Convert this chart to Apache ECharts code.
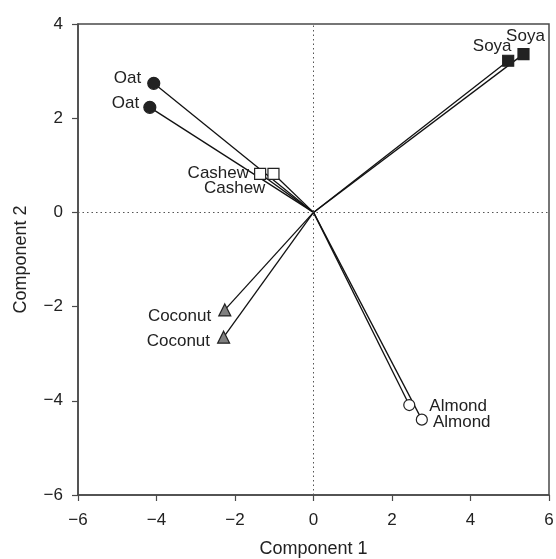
<!DOCTYPE html>
<html><head><meta charset="utf-8">
<script src="https://cdn.jsdelivr.net/npm/echarts@6/dist/echarts.min.js"></script>
<style>html,body{margin:0;padding:0;background:#fff}#c{width:556px;height:559px}</style>
</head><body><div id="c"></div>
<script>
const names = ['Oat','Oat','Cashew','Cashew','Soya','Soya','Coconut','Coconut','Almond','Almond'];
const comp1 = [-4.07,-4.17,-1.36,-1.02,4.96,5.35,-2.26,-2.29,2.44,2.76];
const comp2 = [2.74,2.23,0.82,0.82,3.22,3.36,-2.07,-2.65,-4.09,-4.40];
const xTicks = [-6,-4,-2,0,2,4,6];
const yTicks = [-6,-4,-2,0,2,4];

const FONT = 'Liberation Sans, Arial, sans-serif';
const styles = {
  Oat:    {symbol:'circle', color:'#222', border:'#222', size:12},
  Cashew: {symbol:'rect', color:'#fff', border:'#222', size:11},
  Soya:   {symbol:'rect', color:'#222', border:'#222', size:11},
  Coconut:{symbol:'triangle', color:'#808080', border:'#222', size:12},
  Almond: {symbol:'circle', color:'#fff', border:'#222', size:11}
};
const labelPos = [
  {position:'left', distance:6, offset:[0,-5]},
  {position:'left', distance:4, offset:[0,-4]},
  {position:'left', distance:5, offset:[0,0]},
  {position:'left', distance:2, offset:[0,15]},
  {position:'top', distance:0, offset:[-16,0]},
  {position:'top', distance:3, offset:[2,0]},
  {position:'left', distance:7, offset:[0,6]},
  {position:'left', distance:7, offset:[0,4]},
  {position:'right', distance:14, offset:[0,1]},
  {position:'right', distance:5, offset:[0,3]}
];

const series = [];
series.push({
  type:'line', data:[], silent:true,
  markLine:{symbol:'none', silent:true, label:{show:false},
    lineStyle:{type:[1.5,3], color:'#555', width:1},
    data:[{xAxis:0},{yAxis:0}]}
});
for (let i=0;i<names.length;i++){
  series.push({type:'line', data:[[0,0],[comp1[i],comp2[i]]], symbol:'none',
    lineStyle:{color:'#111', width:1.3}, silent:true, z:2});
}
for (let i=0;i<names.length;i++){
  const s = styles[names[i]];
  const lp = labelPos[i];
  series.push({type:'scatter', data:[[comp1[i],comp2[i]]], symbol:s.symbol, symbolSize:s.size,
    itemStyle:{color:s.color, borderColor:s.border, borderWidth:1.2, opacity:1}, z:3,
    label:{show:true, formatter:names[i], position:lp.position, distance:lp.distance, offset:lp.offset,
      color:'#222', fontSize:17, fontFamily:FONT}});
}
const fmt = v => String(v).replace('-', '\u2212');
const axisCommon = {
  axisLine:{show:true, onZero:false, lineStyle:{color:'#4a4a4a', width:1.5}},
  axisTick:{show:true, inside:false, length:6, lineStyle:{color:'#4a4a4a', width:1.2}},
  splitLine:{show:false},
  axisLabel:{color:'#222', fontSize:17, fontFamily:FONT, formatter:fmt},
  nameLocation:'middle',
  nameTextStyle:{color:'#222', fontSize:18, fontFamily:FONT}
};
const chart = echarts.init(document.getElementById('c'));
chart.setOption({
  animation:false,
  grid:{left:78, right:7, top:24, bottom:64, containLabel:false, outerBoundsMode:'none',
    show:true, borderColor:'#4a4a4a', borderWidth:1.5, backgroundColor:'transparent'},
  xAxis:Object.assign({}, axisCommon, {type:'value', min:xTicks[0], max:xTicks[xTicks.length-1], interval:2,
    name:'Component 1', nameGap:45, axisLabel:Object.assign({}, axisCommon.axisLabel, {margin:17})}),
  yAxis:Object.assign({}, axisCommon, {type:'value', min:yTicks[0], max:yTicks[yTicks.length-1], interval:2,
    name:'Component 2', nameGap:48, axisLabel:Object.assign({}, axisCommon.axisLabel, {margin:15})}),
  series:series
});
</script></body></html>
